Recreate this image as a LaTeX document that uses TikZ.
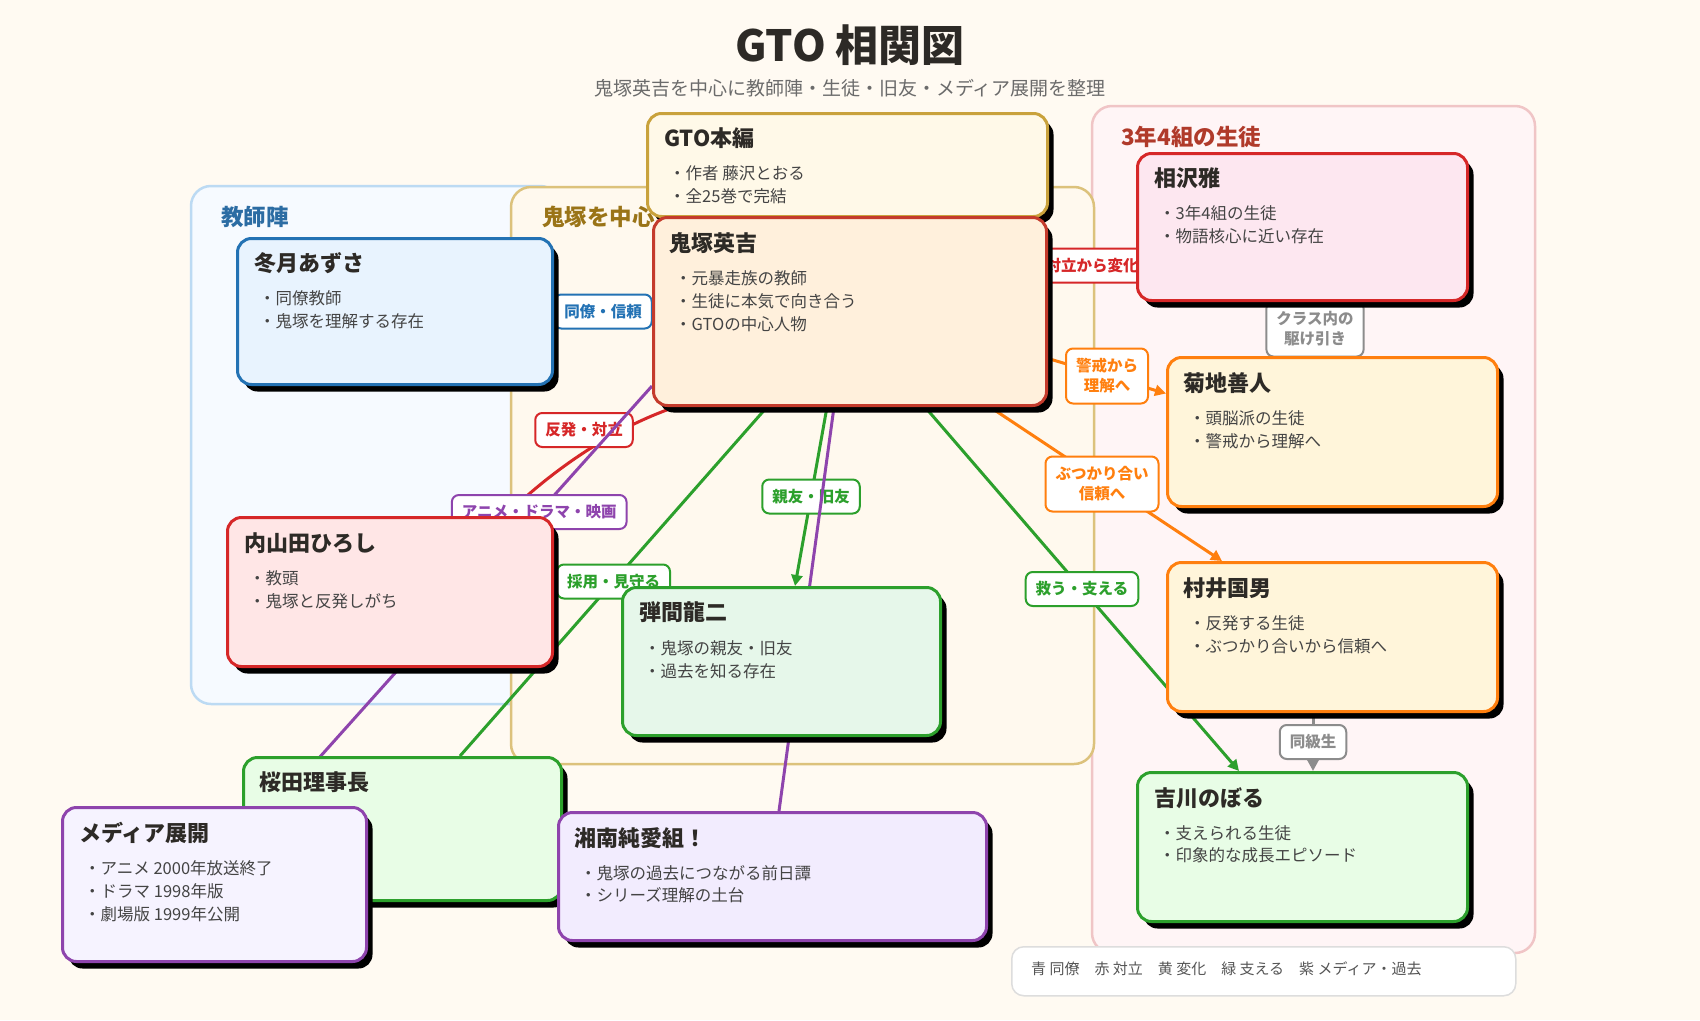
\documentclass[tikz,border=0pt]{standalone}
\usepackage{fontspec}
\setmainfont{Noto Sans CJK JP}
\usetikzlibrary{arrows.meta,shadows}
\definecolor{bgC}{HTML}{FFFAF2}
\definecolor{ink}{HTML}{2D2A26}
\definecolor{body}{HTML}{444444}
\definecolor{subC}{HTML}{6B6B6B}
\definecolor{legT}{HTML}{555555}
\definecolor{legC}{HTML}{DDDDDD}
\definecolor{blueC}{HTML}{2372B4}
\definecolor{redC}{HTML}{D62728}
\definecolor{orangeC}{HTML}{FF7F0E}
\definecolor{greenC}{HTML}{2CA02C}
\definecolor{purpleC}{HTML}{8E44AD}
\definecolor{grayC}{HTML}{8C8C8C}
\definecolor{goldC}{HTML}{C9A23C}
\definecolor{oniC}{HTML}{C43B2C}
\definecolor{gtoF}{HTML}{FFF9E8}
\definecolor{oniF}{HTML}{FFF0DC}
\definecolor{fuyuF}{HTML}{E8F3FE}
\definecolor{uchiF}{HTML}{FFE6E6}
\definecolor{danmaF}{HTML}{E6F7EA}
\definecolor{sakuF}{HTML}{E8FDE6}
\definecolor{mediaF}{HTML}{F6F3FF}
\definecolor{shonanF}{HTML}{F2ECFE}
\definecolor{aizaF}{HTML}{FDE7F0}
\definecolor{kikuF}{HTML}{FFF5DA}
\definecolor{yoshiF}{HTML}{E8FDE6}
\definecolor{tGrpF}{HTML}{F6FAFF}
\definecolor{tGrpL}{HTML}{BCDAF3}
\definecolor{cGrpF}{HTML}{FFF9EE}
\definecolor{cGrpL}{HTML}{DCC27C}
\definecolor{sGrpF}{HTML}{FFF5F6}
\definecolor{sGrpL}{HTML}{F0C5C6}
\definecolor{tLab}{HTML}{2B6CA3}
\definecolor{cLab}{HTML}{9A7417}
\definecolor{sLab}{HTML}{B03A2A}
\pgfdeclarelayer{lgrp}
\pgfdeclarelayer{ledg}
\pgfsetlayers{lgrp,ledg,main}
\tikzset{
 card/.style n args={2}{draw=#1, fill=#2, line width=3pt, rounded corners=14pt, anchor=north west, inner sep=0pt,
   drop shadow={shadow xshift=6pt, shadow yshift=-7pt, fill=black, opacity=1}},
 ttl/.style={anchor=west, inner sep=0pt, font=\bfseries\fontsize{22}{26}\selectfont, text=ink},
 blt/.style={anchor=west, inner sep=0pt, font=\fontsize{16.5}{20}\selectfont, text=body},
 conn/.style={draw=#1, line width=3pt},
 arr/.style={-{Triangle[length=11pt,width=11pt]}},
 lab/.style={draw=#1, text=#1, fill=white, line width=2pt, rounded corners=7pt,
   font=\bfseries\fontsize{15.5}{20}\selectfont, inner xsep=10pt, inner ysep=0pt, minimum height=34pt, align=center},
 grpbox/.style n args={2}{draw=#1, fill=#2, line width=2.5pt, rounded corners=20pt},
 glab/.style={anchor=west, inner sep=0pt, font=\bfseries\fontsize{22.5}{26}\selectfont, text=#1}
}
\begin{document}
\begin{tikzpicture}[x=1pt,y=-1pt]
\useasboundingbox (0,0) rectangle (1700,1020);

% title
\node[font=\bfseries\fontsize{43}{50}\selectfont, text=ink, inner sep=0pt] (title) at (850,45) {GTO 相関図};
\node[font=\fontsize{19}{22}\selectfont, text=subC, inner sep=0pt] (subtitle) at (850,88) {鬼塚英吉を中心に教師陣・生徒・旧友・メディア展開を整理};

% cards
\node[card={goldC}{gtoF}, minimum width=400pt, minimum height=103pt] (gto) at (646,112) {};
\node[ttl] (gtoT) at ([shift={(18,26)}]gto.north west) {GTO本編};
\node[blt] (gto1) at ([shift={(23,61)}]gto.north west) {・作者 藤沢とおる};
\node[blt] (gto2) at ([shift={(23,84)}]gto.north west) {・全25巻で完結};

\node[card={oniC}{oniF}, minimum width=393pt, minimum height=188pt] (oni) at (652,216) {};
\node[ttl] (oniT) at ([shift={(17,27)}]oni.north west) {鬼塚英吉};
\node[blt] (oni1) at ([shift={(23,62)}]oni.north west) {・元暴走族の教師};
\node[blt] (oni2) at ([shift={(23,85)}]oni.north west) {・生徒に本気で向き合う};
\node[blt] (oni3) at ([shift={(23,108)}]oni.north west) {・GTOの中心人物};

\node[card={blueC}{fuyuF}, minimum width=315pt, minimum height=146pt] (fuyu) at (236,237) {};
\node[ttl] (fuyuT) at ([shift={(18,26)}]fuyu.north west) {冬月あずさ};
\node[blt] (fuyu1) at ([shift={(23,61)}]fuyu.north west) {・同僚教師};
\node[blt] (fuyu2) at ([shift={(23,84)}]fuyu.north west) {・鬼塚を理解する存在};

\node[card={redC}{uchiF}, minimum width=325pt, minimum height=149pt] (uchi) at (226,516) {};
\node[ttl] (uchiT) at ([shift={(18,27)}]uchi.north west) {内山田ひろし};
\node[blt] (uchi1) at ([shift={(23,62)}]uchi.north west) {・教頭};
\node[blt] (uchi2) at ([shift={(23,85)}]uchi.north west) {・鬼塚と反発しがち};

\node[card={greenC}{danmaF}, minimum width=318pt, minimum height=148pt] (danma) at (621,586) {};
\node[ttl] (danmaT) at ([shift={(18,26)}]danma.north west) {弾間龍二};
\node[blt] (danma1) at ([shift={(23,62)}]danma.north west) {・鬼塚の親友・旧友};
\node[blt] (danma2) at ([shift={(23,85)}]danma.north west) {・過去を知る存在};

\node[card={greenC}{sakuF}, minimum width=318pt, minimum height=143pt] (saku) at (242,756) {};
\node[ttl] (sakuT) at ([shift={(17,26)}]saku.north west) {桜田理事長};

\node[card={purpleC}{mediaF}, minimum width=304pt, minimum height=154pt] (media) at (61,806) {};
\node[ttl] (mediaT) at ([shift={(18,27)}]media.north west) {メディア展開};
\node[blt] (media1) at ([shift={(23,62)}]media.north west) {・アニメ 2000年放送終了};
\node[blt] (media2) at ([shift={(23,85)}]media.north west) {・ドラマ 1998年版};
\node[blt] (media3) at ([shift={(23,108)}]media.north west) {・劇場版 1999年公開};

\node[card={purpleC}{shonanF}, minimum width=428pt, minimum height=128pt] (shonan) at (557,811) {};
\node[ttl] (shonanT) at ([shift={(17,27)}]shonan.north west) {湘南純愛組！};
\node[blt] (shonan1) at ([shift={(23,62)}]shonan.north west) {・鬼塚の過去につながる前日譚};
\node[blt] (shonan2) at ([shift={(23,84)}]shonan.north west) {・シリーズ理解の土台};

\node[card={redC}{aizaF}, minimum width=330pt, minimum height=147pt] (aiza) at (1136,152) {};
\node[ttl] (aizaT) at ([shift={(18,26)}]aiza.north west) {相沢雅};
\node[blt] (aiza1) at ([shift={(23,61)}]aiza.north west) {・3年4組の生徒};
\node[blt] (aiza2) at ([shift={(23,84)}]aiza.north west) {・物語核心に近い存在};

\node[card={orangeC}{kikuF}, minimum width=330pt, minimum height=149pt] (kiku) at (1166,356) {};
\node[ttl] (kikuT) at ([shift={(17,27)}]kiku.north west) {菊地善人};
\node[blt] (kiku1) at ([shift={(23,62)}]kiku.north west) {・頭脳派の生徒};
\node[blt] (kiku2) at ([shift={(23,85)}]kiku.north west) {・警戒から理解へ};

\node[card={orangeC}{kikuF}, minimum width=330pt, minimum height=149pt] (murai) at (1166,561) {};
\node[ttl] (muraiT) at ([shift={(17,27)}]murai.north west) {村井国男};
\node[blt] (murai1) at ([shift={(23,62)}]murai.north west) {・反発する生徒};
\node[blt] (murai2) at ([shift={(23,85)}]murai.north west) {・ぶつかり合いから信頼へ};

\node[card={greenC}{yoshiF}, minimum width=330pt, minimum height=149pt] (yoshi) at (1136,771) {};
\node[ttl] (yoshiT) at ([shift={(18,27)}]yoshi.north west) {吉川のぼる};
\node[blt] (yoshi1) at ([shift={(23,62)}]yoshi.north west) {・支えられる生徒};
\node[blt] (yoshi2) at ([shift={(23,84)}]yoshi.north west) {・印象的な成長エピソード};

% legend
\node[draw=legC, fill=white, line width=1.5pt, rounded corners=12pt, anchor=north west, minimum width=504pt, minimum height=49pt, inner sep=0pt] (legend) at (1011,946) {};
\node[anchor=west, inner sep=0pt, font=\fontsize{15}{18}\selectfont, text=legT] (legendT) at ([shift={(20,23)}]legend.north west) {青 同僚　赤 対立　黄 変化　緑 支える　紫 メディア・過去};

% connectors
\begin{pgfonlayer}{ledg}
\draw[conn=blueC] (oni.west) -- node[lab=blueC] (lbDoryo) {同僚・信頼} (fuyu.east);
\draw[conn=redC] ([yshift=46pt]oni.east) -- node[lab=redC] (lbTairitsu) {対立から変化} ([yshift=-38.5pt]aiza.west);
\draw[conn=redC] ([xshift=23pt]oni.south west) .. controls (600,433) and (540,482) .. ([xshift=279pt]uchi.north west);
\node[lab=redC] (lbHanpatsu) at (584,430) {反発・対立};
\draw[conn=orangeC, arr] ([yshift=-47pt]oni.east) -- node[lab=orangeC, minimum height=55pt] (lbKeikai) {警戒から\\理解へ} ([yshift=38.5pt]kiku.west);
\draw[conn=orangeC, arr] ([xshift=338pt]oni.south west) -- node[lab=orangeC, minimum height=55pt, xshift=-4pt] (lbButsu) {ぶつかり合い\\信頼へ} ([xshift=56pt]murai.north west);
\draw[conn=greenC, arr] ([xshift=273pt]oni.south west) -- node[lab=greenC] (lbSukuu) {救う・支える} ([xshift=103pt]yoshi.north west);
\draw[conn=greenC, arr] ([xshift=175pt]oni.south west) -- node[lab=greenC] (lbShinyu) {親友・旧友} ([xshift=174pt]danma.north west);
\draw[conn=greenC] ([xshift=115pt]oni.south west) -- node[lab=greenC] (lbSaiyo) {採用・見守る} ([xshift=218pt]saku.north west);
\draw[conn=grayC] ([xshift=179pt]aiza.south west) -- node[lab=grayC, minimum height=55pt] (lbClass) {クラス内の\\駆け引き} ([xshift=149pt]kiku.north west);
\draw[conn=grayC, arr] ([xshift=147pt]murai.south west) -- node[lab=grayC] (lbDokyu) {同級生} ([xshift=177pt]yoshi.north west);
\draw[conn=purpleC] ([yshift=21pt]oni.south west) -- node[lab=purpleC, pos=0.3] (lbAnime) {アニメ・ドラマ・映画} ([xshift=215pt]media.north west);
\draw[conn=purpleC] ([xshift=182pt]oni.south west) -- ([xshift=222pt]shonan.north west);
\end{pgfonlayer}

% groups
\begin{pgfonlayer}{lgrp}
\fill[bgC] (0,0) rectangle (1700,1020);
\draw[grpbox={tGrpL}{tGrpF}] (191,186) rectangle (560,704);
\draw[grpbox={sGrpL}{sGrpF}] (1092,106) rectangle (1535,953);
\draw[grpbox={cGrpL}{cGrpF}] (511,187) rectangle (1094,764);
\node[glab=tLab] (gT) at (221,217) {教師陣};
\node[glab=cLab] (gC) at (542,217) {鬼塚を中心};
\node[glab=sLab] (gS) at (1121,137) {3年4組の生徒};
\end{pgfonlayer}
\end{tikzpicture}
\end{document}
